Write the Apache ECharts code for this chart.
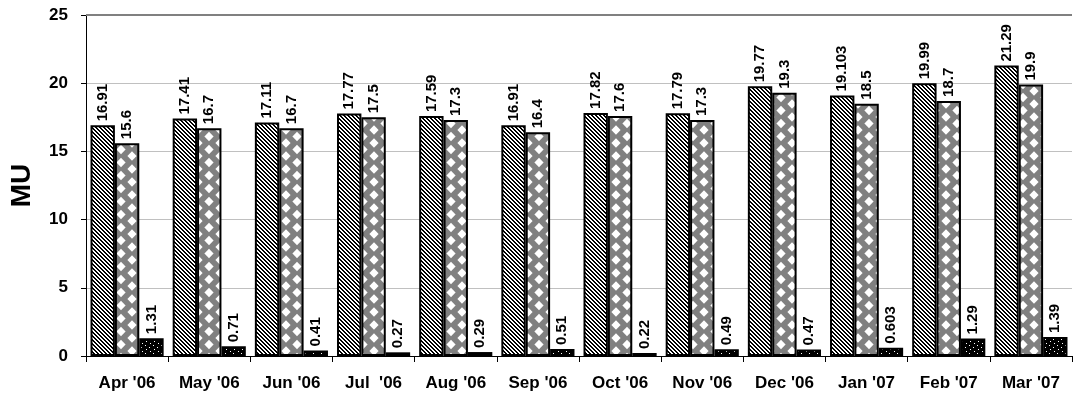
<!DOCTYPE html>
<html>
<head>
<meta charset="utf-8">
<script src="https://cdn.jsdelivr.net/npm/echarts@6/dist/echarts.min.js"></script>
<style>
html,body{margin:0;padding:0;background:#fff;}
#chart{width:1075px;height:408px;}
</style>
</head>
<body>
<div id="chart"></div>
<script>
const categories = ["Apr '06","May '06","Jun '06","Jul  '06","Aug '06","Sep '06","Oct '06","Nov '06","Dec '06","Jan '07","Feb '07","Mar '07"];
const series1 = [16.91,17.41,17.11,17.77,17.59,16.91,17.82,17.79,19.77,19.103,19.99,21.29];
const series2 = [15.6,16.7,16.7,17.5,17.3,16.4,17.6,17.3,19.3,18.5,18.7,19.9];
const series3 = [1.31,0.71,0.41,0.27,0.29,0.51,0.22,0.49,0.47,0.603,1.29,1.39];
const yTicks = [0,5,10,15,20,25];

function makeHatch(){
  const c=document.createElement('canvas');c.width=4;c.height=4;
  const g=c.getContext('2d');g.fillStyle='#fff';g.fillRect(0,0,4,4);g.fillStyle='#000';
  for(let y=0;y<4;y++)for(let x=0;x<4;x++){if((((x-y)%4)+4)%4<2)g.fillRect(x,y,1,1);}
  return c;
}
function makeDiamond(){
  const w=22,h=13;
  const c=document.createElement('canvas');c.width=w;c.height=h;
  const g=c.getContext('2d');g.fillStyle='#808080';g.fillRect(0,0,w,h);g.fillStyle='#fff';
  const pts=[[0,0],[w,0],[0,h],[w,h],[w/2,h/2]];
  const rx=4.6,ry=4.8;
  pts.forEach(p=>{g.beginPath();g.moveTo(p[0],p[1]-ry);g.lineTo(p[0]+rx,p[1]);g.lineTo(p[0],p[1]+ry);g.lineTo(p[0]-rx,p[1]);g.closePath();g.fill();});
  return c;
}
function makeDots(){
  const c=document.createElement('canvas');c.width=8;c.height=8;
  const g=c.getContext('2d');g.fillStyle='#000';g.fillRect(0,0,8,8);g.fillStyle='#fff';
  g.fillRect(1,1,1,1);g.fillRect(5,3,1,1);g.fillRect(2,5,1,1);g.fillRect(6,7,1,1);
  return c;
}

const FONT = "'Liberation Sans', Arial, sans-serif";
const chart = echarts.init(document.getElementById('chart'), null, {renderer:'canvas'});

const labelCfg = {
  show:true, position:'top', rotate:90, align:'left', verticalAlign:'middle', distance:4,
  color:'#000', fontWeight:'bold', fontSize:15, fontFamily:FONT
};
function barSeries(name, data, pattern){
  return {
    name:name, type:'bar', data:data, barGap:'0%', barCategoryGap:'11%',
    itemStyle:{color:{image:pattern, repeat:'repeat'}, borderColor:'#000', borderWidth:2},
    label:labelCfg, emphasis:{disabled:true}
  };
}
const s1 = barSeries('S1', series1, makeHatch());
s1.markLine = {silent:true, symbol:'none', label:{show:false}, lineStyle:{color:'#808080', width:2, type:'solid'}, data:[{yAxis:yTicks[yTicks.length-1]}]};

chart.setOption({
  animation:false,
  grid:{left:83, right:3, top:15, bottom:52, containLabel:false},
  xAxis:{
    type:'category', data:categories,
    axisLine:{lineStyle:{color:'#000', width:1}},
    axisTick:{show:true, length:6, lineStyle:{color:'#000'}},
    axisLabel:{color:'#000', fontWeight:'bold', fontSize:17, fontFamily:FONT, margin:19, interval:0}
  },
  yAxis:{
    type:'value', min:yTicks[0], max:yTicks[yTicks.length-1], interval:5,
    name:'MU', nameLocation:'middle', nameRotate:90, nameGap:50,
    nameTextStyle:{color:'#000', fontWeight:'bold', fontSize:28, fontFamily:FONT},
    axisLine:{show:true, lineStyle:{color:'#000', width:1}},
    axisTick:{show:true, length:5, lineStyle:{color:'#000'}},
    axisLabel:{color:'#000', fontWeight:'bold', fontSize:17, fontFamily:FONT, margin:18},
    splitLine:{show:true, lineStyle:{color:'#c0c0c0', width:1}}
  },
  series:[s1, barSeries('S2', series2, makeDiamond()), barSeries('S3', series3, makeDots())]
});
</script>
</body>
</html>
